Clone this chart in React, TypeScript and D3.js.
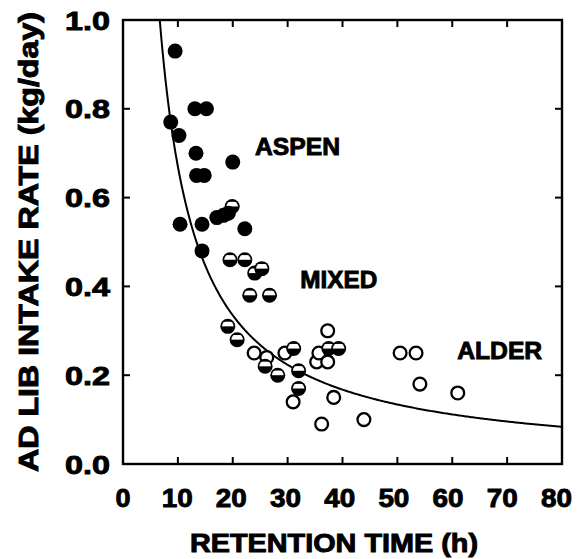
import React from "react";
import * as d3 from "d3";

// retention time (h), intake rate (kg/day)
const aspen: [number, number][] = [
  [9.5, 0.93], [13.1, 0.8], [15.2, 0.8], [8.7, 0.77], [10.2, 0.74], [13.3, 0.7],
  [20, 0.68], [13.4, 0.65], [14.8, 0.65], [10.4, 0.54], [14.4, 0.54], [17.1, 0.555],
  [18.3, 0.56], [19.2, 0.565], [22.2, 0.53], [14.4, 0.48],
];
const mixed: [number, number][] = [
  [19.9, 0.58], [19.5, 0.46], [22.2, 0.46], [24, 0.43], [25.3, 0.44], [23.1, 0.38],
  [26.7, 0.38], [19.1, 0.31], [20.8, 0.28], [25.9, 0.22], [28.2, 0.2], [31.1, 0.26],
  [32, 0.21], [32, 0.17], [37.5, 0.26], [39.3, 0.26],
];
const alder: [number, number][] = [
  [23.9, 0.25], [26.2, 0.24], [29.5, 0.25], [31, 0.14], [37.3, 0.3], [35.3, 0.23],
  [35.7, 0.25], [37.3, 0.23], [38.4, 0.15], [36.2, 0.09], [43.9, 0.1], [50.5, 0.25],
  [53.4, 0.25], [54.1, 0.18], [61, 0.16],
];
const groupLabels = [
  { text: "ASPEN", x: 24.05, y: 0.696, len: 85 },
  { text: "MIXED", x: 32.3, y: 0.396, len: 77 },
  { text: "ALDER", x: 60.9, y: 0.236, len: 85 },
];
const xTicks = [0, 10, 20, 30, 40, 50, 60, 70, 80];
const yTicks = [0, 0.2, 0.4, 0.6, 0.8, 1.0];
const fitK = 6.7; // y = k / x

const W = 581, H = 559;
const left = 123, right = 562, top = 20, bottom = 464;
const font = "'Liberation Sans', Arial, Helvetica, sans-serif";

export default function App() {
  const x = d3.scaleLinear().domain([0, 80]).range([left, right]);
  const y = d3.scaleLinear().domain([0, 1]).range([bottom, top]);

  const curvePts = d3.range(6.5, 80.01, 0.25).map((t) => [t, fitK / t] as [number, number]);
  const line = d3.line<[number, number]>().x((d) => x(d[0])).y((d) => y(d[1]));

  const r = 7.5;
  const tickLen = 7;
  const heavy = { fontFamily: font, fontWeight: "bold" as const, stroke: "#000", strokeWidth: 0.9 };

  return (
    <svg width={W} height={H} style={{ position: "absolute", left: 0, top: 0, background: "#fff" }}>
      <defs>
        <clipPath id="plot">
          <rect x={left} y={top} width={right - left} height={bottom - top} />
        </clipPath>
        <clipPath id="halfclip">
          <circle cx={0} cy={0} r={r - 1.7} />
        </clipPath>
      </defs>

      {/* frame */}
      <rect x={left} y={top} width={right - left} height={bottom - top} fill="none" stroke="#000" strokeWidth={2.4} />
      {xTicks.slice(1, -1).map((t) => (
        <g key={"xt" + t}>
          <line x1={x(t)} x2={x(t)} y1={bottom} y2={bottom - tickLen} stroke="#000" strokeWidth={2} />
          <line x1={x(t)} x2={x(t)} y1={top} y2={top + tickLen} stroke="#000" strokeWidth={2} />
        </g>
      ))}
      {yTicks.slice(1, -1).map((t) => (
        <g key={"yt" + t}>
          <line x1={left} x2={left + tickLen} y1={y(t)} y2={y(t)} stroke="#000" strokeWidth={2} />
          <line x1={right} x2={right - tickLen} y1={y(t)} y2={y(t)} stroke="#000" strokeWidth={2} />
        </g>
      ))}

      {/* tick labels */}
      {xTicks.map((t) => (
        <text key={"xl" + t} x={x(t) - t * 0.07} y={507} textAnchor="middle" fontSize={26} {...heavy}
          textLength={t === 0 ? 15 : 31} lengthAdjust="spacingAndGlyphs">
          {t}
        </text>
      ))}
      {yTicks.map((t) => (
        <text key={"yl" + t} x={110} y={y(t) + 9.5} textAnchor="end" fontSize={26} {...heavy}
          textLength={45} lengthAdjust="spacingAndGlyphs">
          {t.toFixed(1)}
        </text>
      ))}

      {/* axis titles */}
      <text x={334} y={552} textAnchor="middle" fontSize={25} {...heavy} textLength={288} lengthAdjust="spacingAndGlyphs">
        RETENTION TIME (h)
      </text>
      <text transform={`translate(38,${242}) rotate(-90)`} textAnchor="middle" fontSize={27} {...heavy}
        textLength={460} lengthAdjust="spacingAndGlyphs">
        AD LIB INTAKE RATE (kg/day)
      </text>

      {/* fitted curve */}
      <path d={line(curvePts) || ""} fill="none" stroke="#000" strokeWidth={2} clipPath="url(#plot)" />

      {/* points */}
      {alder.map((d, i) => (
        <circle key={"a" + i} cx={x(d[0])} cy={y(d[1])} r={r - 1.1} fill="#fff" stroke="#000" strokeWidth={2.3} />
      ))}
      {mixed.map((d, i) => (
        <g key={"m" + i} transform={`translate(${x(d[0])},${y(d[1])})`}>
          <circle r={r} fill="#000" />
          <rect x={-r} y={-r * 0.62} width={2 * r} height={r * 0.62} fill="#fff" clipPath="url(#halfclip)" />
        </g>
      ))}
      {aspen.map((d, i) => (
        <circle key={"s" + i} cx={x(d[0])} cy={y(d[1])} r={r} fill="#000" />
      ))}

      {/* group labels */}
      {groupLabels.map((g) => (
        <text key={g.text} x={x(g.x)} y={y(g.y)} fontSize={24} {...heavy} textLength={g.len} lengthAdjust="spacingAndGlyphs">
          {g.text}
        </text>
      ))}
    </svg>
  );
}
